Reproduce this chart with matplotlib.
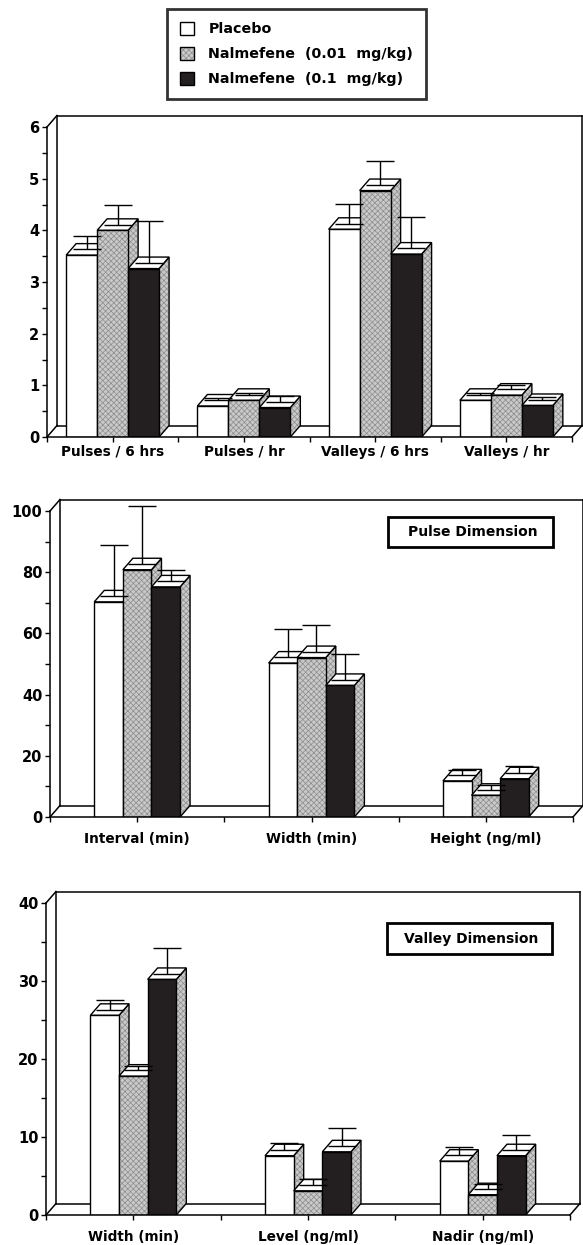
import numpy as np
import matplotlib
matplotlib.use('Agg')
import matplotlib.pyplot as plt
from matplotlib.patches import Polygon, Patch, Rectangle
from matplotlib.legend_handler import HandlerTuple

W, H = 583, 1245
DX, DY = 10, 11.5          # depth of the 3-D boxes, in pixels

plt.rcParams['font.family'] = 'DejaVu Sans'
plt.rcParams['font.weight'] = 'bold'
plt.rcParams['hatch.color'] = '#8c8c8c'
plt.rcParams['hatch.linewidth'] = 0.5

GRAY = '#c9c9c9'
HATCH = 'xxxxxx'
series = ['Placebo', 'Nalmefene  (0.01  mg/kg)', 'Nalmefene  (0.1  mg/kg)']
front_style = ['white', 'gray', '#231f20']

# pulse and valley frequency
count_cats = ['Pulses / 6 hrs', 'Pulses / hr', 'Valleys / 6 hrs', 'Valleys / hr']
count_placebo = [3.52, 0.60, 4.02, 0.71]
count_low = [4.00, 0.71, 4.77, 0.81]
count_high = [3.26, 0.57, 3.54, 0.61]
count_placebo_sem = [0.26, 0.05, 0.37, 0.04]
count_low_sem = [0.37, 0.04, 0.47, 0.08]
count_high_sem = [0.81, 0.11, 0.60, 0.06]

# pulse dimension
pulse_cats = ['Interval (min)', 'Width (min)', 'Height (ng/ml)']
pulse_placebo = [70.3, 50.3, 11.8]
pulse_low = [80.8, 52.1, 7.1]
pulse_high = [75.2, 43.0, 12.5]
pulse_placebo_sem = [16.7, 9.1, 1.8]
pulse_low_sem = [18.8, 8.9, 1.6]
pulse_high_sem = [3.6, 8.3, 2.4]

# valley dimension
valley_cats = ['Width (min)', 'Level (ng/ml)', 'Nadir (ng/ml)']
valley_placebo = [25.6, 7.6, 6.9]
valley_low = [17.8, 3.1, 2.6]
valley_high = [30.2, 8.1, 7.6]
valley_placebo_sem = [1.19, 0.89, 1.11]
valley_low_sem = [0.58, 0.76, 0.67]
valley_high_sem = [3.32, 2.27, 1.92]


def face(ax, verts, style):
    if style == 'gray':
        ax.add_patch(Polygon(verts, closed=True, facecolor=GRAY, hatch=HATCH,
                             linewidth=0, zorder=2))
        ax.add_patch(Polygon(verts, closed=True, fill=False, edgecolor='black',
                             linewidth=1.0, joinstyle='miter', zorder=2))
    else:
        ax.add_patch(Polygon(verts, closed=True, facecolor=style, edgecolor='black',
                             linewidth=1.0, joinstyle='miter', zorder=2))


def panel(fig, box, cats, means, sems, ymax, ystep, yminor, bar_w, label_pad):
    fl, fr, floor, top = box
    n = len(cats)
    ax = fig.add_axes([fl / W, 1 - floor / H, (fr + DX - fl) / W, (floor - top + DY) / H])
    ddx = DX * n / (fr - fl)
    ddy = DY * ymax / (floor - top)
    ax.set_xlim(0, n + ddx)
    ax.set_ylim(0, ymax + ddy)
    ax.patch.set_alpha(0)

    # walls and floor behind the bars
    lw = 1.1
    kw = dict(color='black', lw=lw, clip_on=False, zorder=1, solid_capstyle='projecting')
    ax.plot([0, ddx], [0, ddy], **kw)
    ax.plot([0, ddx], [ymax, ymax + ddy], **kw)
    ax.plot([ddx, ddx], [ddy, ymax + ddy], **kw)
    ax.plot([ddx, n + ddx], [ymax + ddy, ymax + ddy], **kw)
    ax.plot([n + ddx, n + ddx], [ymax + ddy, ddy], **kw)
    ax.plot([ddx, n + ddx], [ddy, ddy], **kw)
    ax.plot([n, n + ddx], [0, ddy], **kw)

    for i in range(n):
        for s in range(3):
            v = means[s][i]
            x0 = i + 0.5 - 1.5 * bar_w + s * bar_w
            x1 = x0 + bar_w
            face(ax, [(x1, 0), (x1 + ddx, ddy), (x1 + ddx, v + ddy), (x1, v)], 'gray')
            face(ax, [(x0, v), (x1, v), (x1 + ddx, v + ddy), (x0 + ddx, v + ddy)], 'white')
            face(ax, [(x0, 0), (x1, 0), (x1, v), (x0, v)], front_style[s])

    for s in range(3):
        xs = np.arange(n) + 0.5 - bar_w + s * bar_w + ddx / 2
        ys = np.array(means[s]) + ddy / 2
        ax.errorbar(xs, ys, yerr=[np.zeros(n), sems[s]], fmt='none', ecolor='black',
                    elinewidth=1.0, capsize=10, capthick=1.0, zorder=5, clip_on=False)

    for side in ['top', 'right']:
        ax.spines[side].set_visible(False)
    ax.spines['left'].set_bounds(0, ymax)
    ax.spines['bottom'].set_bounds(0, n)
    ax.spines['left'].set_linewidth(lw)
    ax.spines['bottom'].set_linewidth(lw)

    ax.set_yticks(np.arange(0, ymax + 0.001, ystep))
    ax.set_yticks(np.arange(0, ymax + 0.001, yminor), minor=True)
    ax.set_yticklabels([f'{t:g}' for t in np.arange(0, ymax + 0.001, ystep)], fontsize=10.5)
    ax.set_xticks(np.arange(n) + 0.5)
    ax.set_xticks(np.arange(n + 1), minor=True)
    ax.set_xticklabels(cats, fontsize=9.8)
    ax.tick_params(axis='both', which='both', direction='out', length=3.5, width=1.0)
    ax.tick_params(axis='y', pad=2)
    ax.tick_params(axis='x', which='major', pad=label_pad)
    return ax


fig = plt.figure(figsize=(W / 100, H / 100), dpi=100)

panel(fig, (47, 572, 437, 127), count_cats,
      [count_placebo, count_low, count_high],
      [count_placebo_sem, count_low_sem, count_high_sem],
      6, 1, 0.5, 0.236, 2)
panel(fig, (50, 573, 817, 511), pulse_cats,
      [pulse_placebo, pulse_low, pulse_high],
      [pulse_placebo_sem, pulse_low_sem, pulse_high_sem],
      100, 20, 10, 0.164, 7)
panel(fig, (46, 570, 1215, 903), valley_cats,
      [valley_placebo, valley_low, valley_high],
      [valley_placebo_sem, valley_low_sem, valley_high_sem],
      40, 10, 5, 0.164, 7)

# boxed panel titles
for (x0, y0, x1, y1), title in [((388, 517, 553, 547), 'Pulse Dimension'),
                                 ((387, 923, 552, 954), 'Valley Dimension')]:
    fig.add_artist(Rectangle((x0 / W, 1 - y1 / H), (x1 - x0) / W, (y1 - y0) / H,
                             transform=fig.transFigure, fill=False, lw=2, ec='black'))
    fig.text((x0 + x1) / 2 / W + 2 / W, 1 - (y0 + y1) / 2 / H, title, fontsize=10,
             ha='center', va='center')

# legend
gray_handle = (Patch(facecolor=GRAY, hatch=HATCH, linewidth=0),
               Patch(fill=False, edgecolor='black', linewidth=1.0))
handles = [Patch(facecolor='white', edgecolor='black', linewidth=1.0),
           gray_handle,
           Patch(facecolor='#231f20', edgecolor='black', linewidth=1.0)]
leg = fig.legend(handles, series, loc='upper left', bbox_to_anchor=(167 / W, 1 - 9 / H),
                 fontsize=10.3, frameon=True, fancybox=False, edgecolor='black',
                 borderpad=0.9, handlelength=1.0, handleheight=1.0, handletextpad=1.0,
                 labelspacing=0.75, borderaxespad=0,
                 handler_map={tuple: HandlerTuple(ndivide=1, pad=0)})
leg.get_frame().set_linewidth(2)

fig.savefig('out.png', dpi=100)
